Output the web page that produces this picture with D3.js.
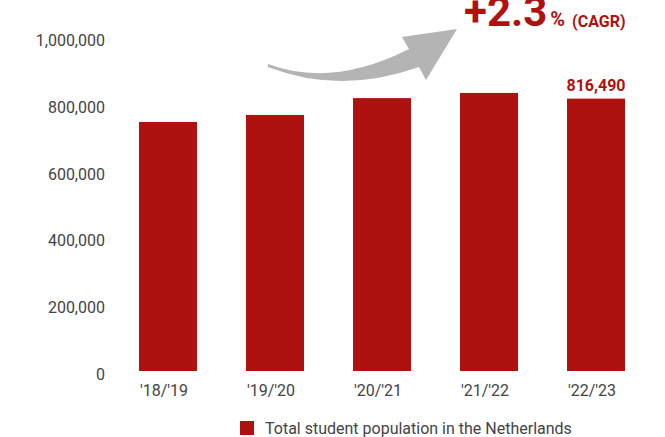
<!DOCTYPE html>
<html>
<head>
<meta charset="utf-8">
<script src="https://cdn.jsdelivr.net/npm/d3@7"></script>
<style>
  html, body { margin: 0; padding: 0; background: #fff; }
  svg { display: block; font-family: Roboto, "Noto Sans", sans-serif; }
</style>
</head>
<body>
<svg id="chart" width="665" height="437"></svg>
<script>
// Student population per academic year
const categories = ["'18/'19", "'19/'20", "'20/'21", "'21/'22", "'22/'23"];
const students = [746400, 767500, 818000, 833500, 816490];
const yTicks = [0, 200000, 400000, 600000, 800000, 1000000];
const labelledIndex = 4;           // bar that carries its value
const growthText = "+2.3";
const growthUnit = "%";
const growthNote = "(CAGR)";
const legendLabel = "Total student population in the Netherlands";

const RED = "#ae110e";
const GREY_TEXT = "#444";
const ARROW = "#b4b4b4";

const svg = d3.select("#chart");

const x = d3.scaleBand()
  .domain(categories)
  .range([114.5, 649.5])
  .paddingInner(0.458)
  .paddingOuter(0.229);

const y = d3.scaleLinear()
  .domain([0, 1000000])
  .range([371, 37.4]);

// y axis: labels only
const yAxis = svg.append("g")
  .attr("transform", "translate(105,3.3)")
  .call(d3.axisLeft(y).tickValues(yTicks).tickFormat(d3.format(",")).tickSize(0).tickPadding(0));
yAxis.select(".domain").remove();
yAxis.selectAll("text")
  .attr("font-family", "Roboto")
  .attr("font-size", 16)
  .attr("fill", GREY_TEXT);

// x axis: labels only
const xAxis = svg.append("g")
  .attr("transform", "translate(-4,371)")
  .call(d3.axisBottom(x).tickSize(0).tickPadding(13.6));
xAxis.select(".domain").remove();
xAxis.selectAll("text")
  .attr("font-family", "Roboto")
  .attr("font-size", 16)
  .attr("fill", GREY_TEXT);

// bars
svg.append("g")
  .selectAll("rect")
  .data(students)
  .join("rect")
  .attr("x", (d, i) => x(categories[i]))
  .attr("y", d => y(d))
  .attr("width", x.bandwidth())
  .attr("height", d => y(0) - y(d))
  .attr("fill", RED);

// value on the last bar
svg.append("text")
  .attr("x", x(categories[labelledIndex]) + x.bandwidth() / 2)
  .attr("y", y(students[labelledIndex]) - 8)
  .attr("text-anchor", "middle")
  .attr("font-family", "Roboto")
  .attr("font-weight", 700)
  .attr("font-size", 16)
  .attr("fill", RED)
  .text(d3.format(",")(students[labelledIndex]));

// growth arrow
svg.append("path")
  .attr("d", "M268,64 Q332,88 409,49 L402,37 L457,29 L426,80 L419,67 Q340,95 268,67 Z")
  .attr("fill", ARROW);

// growth headline
const head = svg.append("text")
  .attr("x", 464)
  .attr("y", 26)
  .attr("font-family", "Roboto")
  .attr("font-weight", 700)
  .attr("fill", RED);
head.append("tspan").attr("font-size", 42).text(growthText);
head.append("tspan").attr("font-size", 20).attr("dx", 3).text(growthUnit);
head.append("tspan").attr("font-size", 16).attr("dx", 7).attr("dy", 1).text(growthNote);

// legend
const legend = svg.append("g");
legend.append("rect")
  .attr("x", 240).attr("y", 421)
  .attr("width", 14).attr("height", 14)
  .attr("fill", RED);
legend.append("text")
  .attr("x", 265).attr("y", 434)
  .attr("font-family", "Roboto")
  .attr("font-size", 16)
  .attr("fill", GREY_TEXT)
  .text(legendLabel);
</script>
</body>
</html>
